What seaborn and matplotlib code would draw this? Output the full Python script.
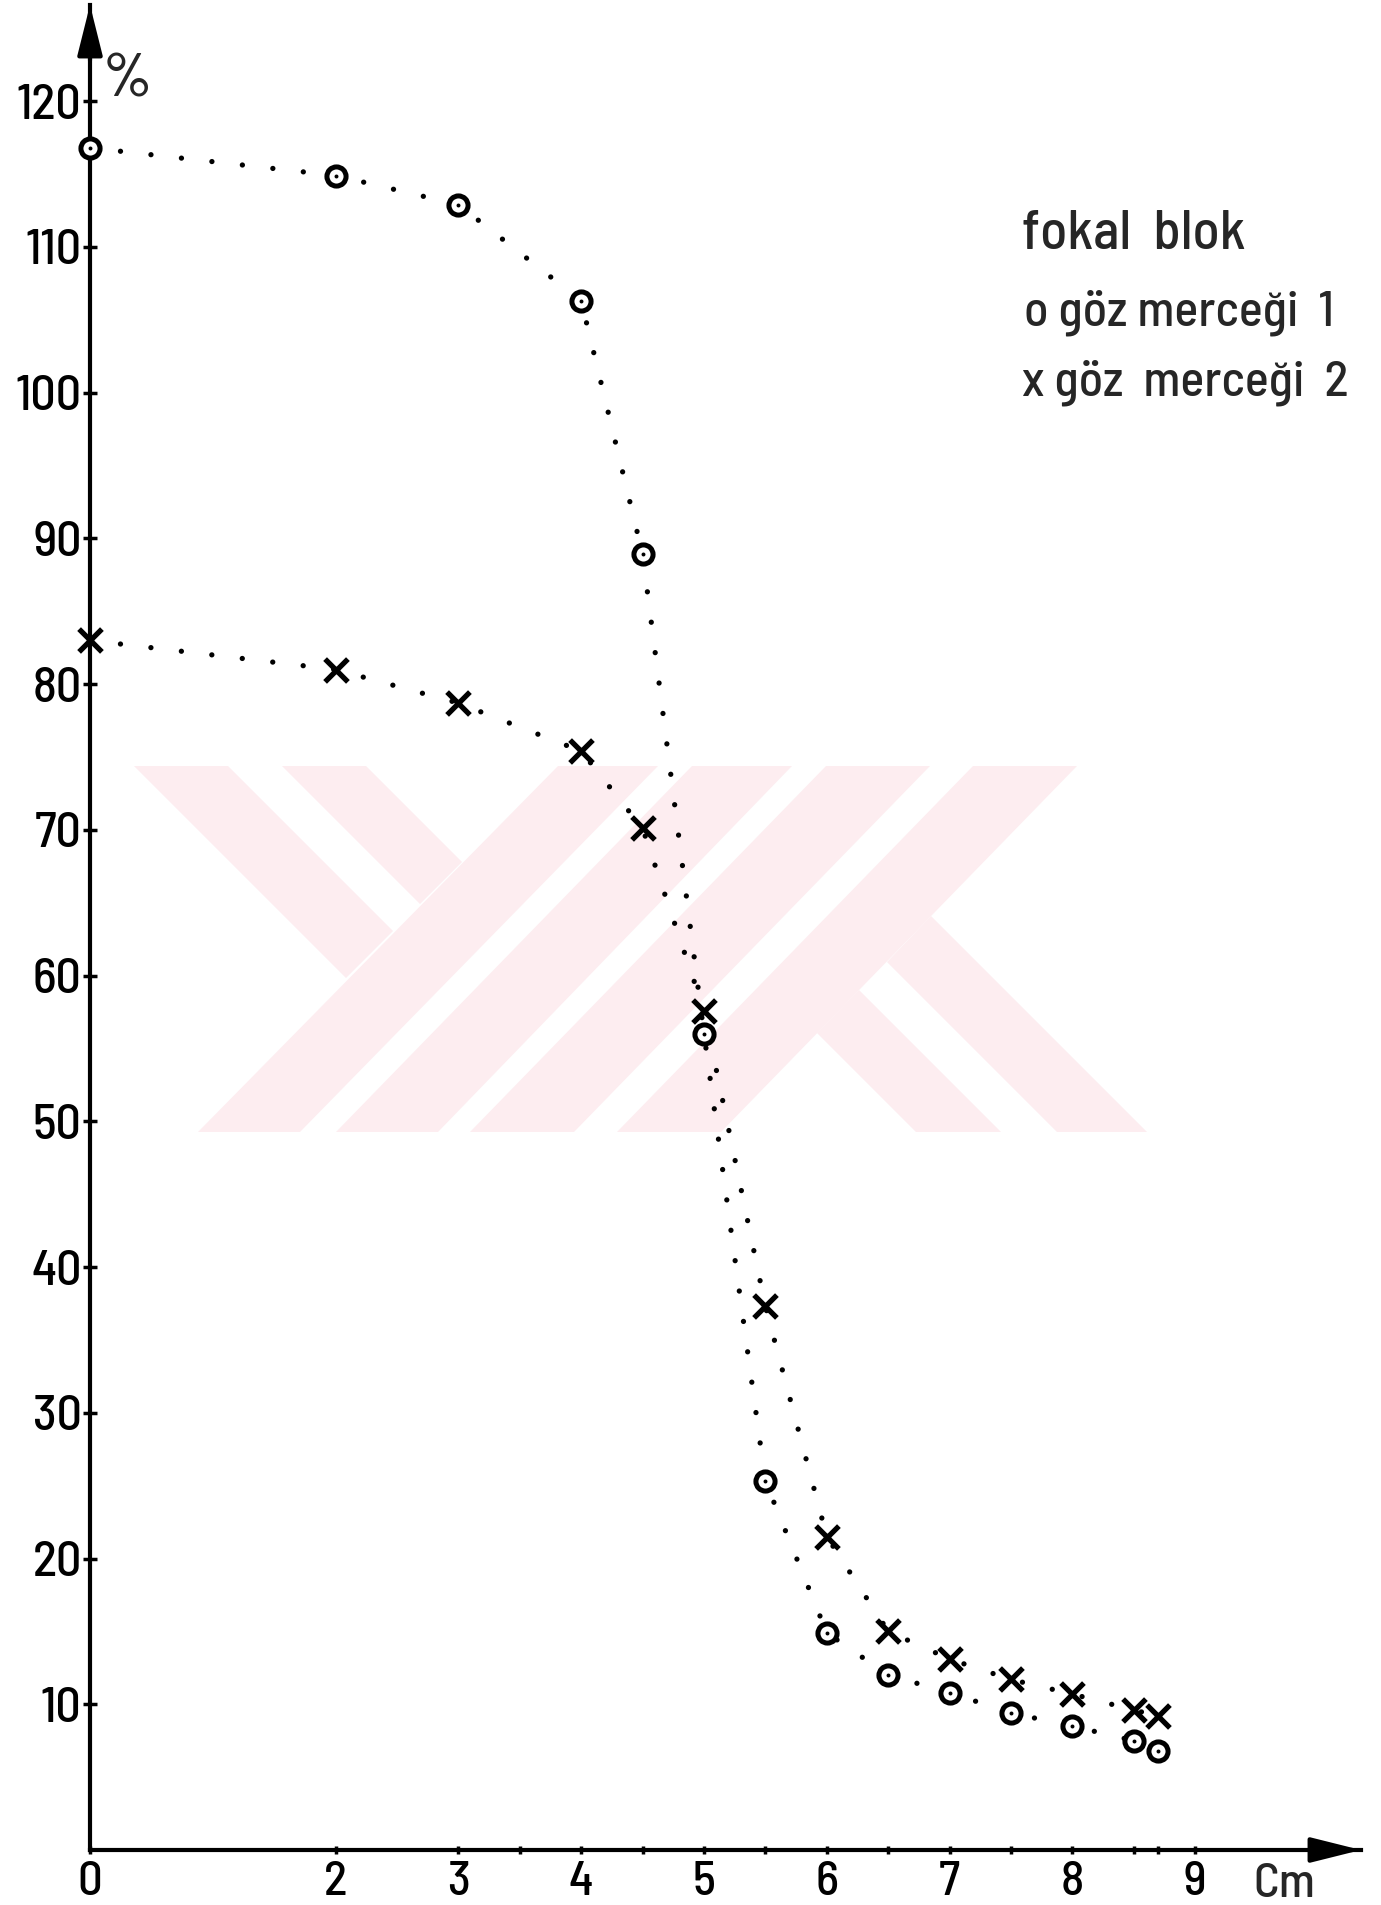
import matplotlib
matplotlib.use('Agg')
import matplotlib.pyplot as plt
import seaborn as sns
from matplotlib.patches import Polygon

# mesafe (cm) ve yüzde değerleri
distancia = [0, 2, 3, 4, 4.5, 5, 5.5, 6, 6.5, 7, 7.5, 8, 8.5, 8.7]
mercek1 = [116.8, 114.9, 112.9, 106.3, 88.9, 56.0, 25.3, 14.9, 12.0, 10.8, 9.4, 8.5, 7.5, 6.8]
mercek2 = [83.0, 81.0, 78.7, 75.4, 70.1, 57.6, 37.3, 21.5, 15.0, 13.1, 11.7, 10.7, 9.6, 9.2]

xticks = [0, 2, 3, 4, 5, 6, 7, 8, 9]
xticks_minor = [3.5, 4.5, 5.5, 6.5, 7.5, 8.5, 8.7]
yticks = [10, 20, 30, 40, 50, 60, 70, 80, 90, 100, 110, 120]

W, H = 1381, 1905

sns.set_theme(style='white')
plt.rcParams['font.family'] = ['Barlow Semi Condensed', 'Liberation Sans', 'DejaVu Sans']
plt.rcParams['font.weight'] = 'medium'

fig = plt.figure(figsize=(W / 100, H / 100), dpi=100)
fig.patch.set_facecolor('white')

# arka plandaki soluk filigran (piksel koordinatlari)
filigran = [
    [(134, 766), (228, 766), (393, 931), (346, 978)],
    [(282, 766), (366, 766), (462, 862), (420, 904)],
    [(558, 766), (658, 766), (300, 1132), (198, 1132)],
    [(692, 766), (792, 766), (438, 1132), (336, 1132)],
    [(826, 766), (930, 766), (574, 1132), (470, 1132)],
    [(973, 766), (1077, 766), (721, 1132), (617, 1132)],
    [(916, 1132), (1001, 1132), (859, 990), (817, 1033)],
    [(1057, 1132), (1147, 1132), (931, 916), (887, 962)],
]
for pts in filigran:
    p = Polygon([(x / W, 1 - y / H) for x, y in pts], closed=True,
                transform=fig.transFigure, facecolor='#fdedf0', edgecolor='none', zorder=-1)
    fig.patches.append(p)

ax = fig.add_axes([90 / W, 55 / H, 1271 / W, 1845 / H])
ax.set_facecolor('none')

punto = (0, (0.01, 5.8))
sns.lineplot(x=distancia, y=mercek1, ax=ax, color='black', lw=3.8, linestyle=punto,
             dash_capstyle='round', zorder=2)
sns.lineplot(x=distancia, y=mercek2, ax=ax, color='black', lw=3.8, linestyle=punto,
             dash_capstyle='round', zorder=2)

sns.scatterplot(x=distancia, y=mercek1, ax=ax, marker='o', s=190, color='white',
                edgecolor='black', linewidth=3.6, zorder=3, clip_on=False)
sns.scatterplot(x=distancia, y=mercek1, ax=ax, marker='o', s=8, color='black',
                linewidth=0, zorder=4, clip_on=False)
sns.scatterplot(x=distancia, y=mercek2, ax=ax, marker='x', s=270, color='black',
                linewidth=3.8, zorder=3, clip_on=False)

ax.set_xlim(0, 10.35)
ax.set_ylim(0, 126.6)
ax.set_xticks(xticks)
ax.set_xticklabels([str(v) for v in xticks])
ax.set_xticks(xticks_minor, minor=True)
ax.set_yticks(yticks)
ax.set_yticklabels([str(v) for v in yticks])

for s in ['top', 'right']:
    ax.spines[s].set_visible(False)
for s in ['left', 'bottom']:
    ax.spines[s].set_linewidth(3)
    ax.spines[s].set_color('black')

ax.tick_params(axis='y', direction='inout', length=10, width=2.5, pad=1,
               labelsize=36, colors='black', left=True)
ax.tick_params(axis='x', which='both', direction='inout', length=6, width=2.5, pad=5,
               labelsize=35, colors='black', bottom=True)

# eksen oklari
ok = dict(arrowstyle='-|>,head_length=1.4,head_width=0.35', color='black', lw=3,
          mutation_scale=22, shrinkA=0, shrinkB=0)
ax.annotate('', xy=(0, 1), xytext=(0, 0.97), xycoords='axes fraction', arrowprops=ok)
ax.annotate('', xy=(1, 0), xytext=(0.97, 0), xycoords='axes fraction', arrowprops=ok)

ax.text(0.1, 121.4, '%', fontsize=44, ha='left', va='center')
ax.text(9.47, -0.9, 'Cm', fontsize=35, ha='left', va='top', clip_on=False)

fig.text(1022 / W, 1 - 249 / H, 'fokal  blok', fontsize=40, ha='left', va='baseline')
fig.text(1024 / W, 1 - 326 / H, 'o göz merceği  1', fontsize=36, ha='left', va='baseline')
fig.text(1022 / W, 1 - 396 / H, 'x göz  merceği  2', fontsize=36, ha='left', va='baseline')

fig.savefig('out.png', dpi=100)
